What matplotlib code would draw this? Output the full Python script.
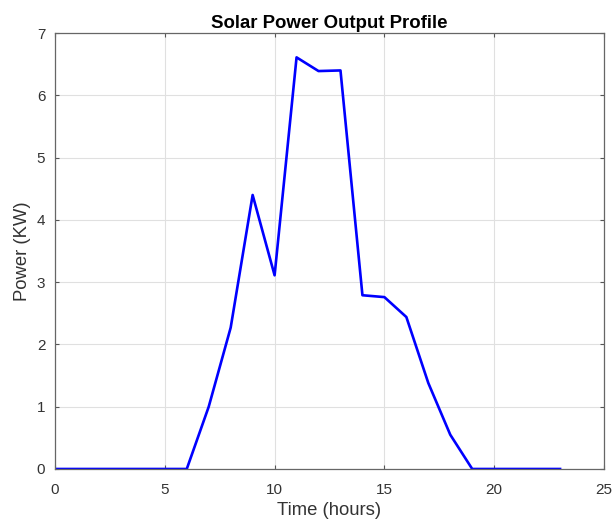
import matplotlib
matplotlib.use("Agg")
import matplotlib.pyplot as plt

hours = list(range(24))
power = [0, 0, 0, 0, 0, 0, 0, 1.0, 2.27, 4.4, 3.11, 6.61, 6.39, 6.4,
         2.79, 2.76, 2.44, 1.38, 0.55, 0, 0, 0, 0, 0]

plt.rcParams["font.family"] = ["Liberation Sans", "DejaVu Sans"]

fig = plt.figure(figsize=(6.16, 5.25), dpi=100)
ax = fig.add_axes([0.0893, 0.1067, 0.8912, 0.8303])
ax.plot(hours, power, color="#0000ff", linewidth=1.9)

ax.set_xlim(0, 25)
ax.set_ylim(0, 7)
ax.set_xticks(range(0, 26, 5))
ax.set_yticks(range(0, 8))
ax.grid(True, color="#e0e0e0", linewidth=0.8)
ax.set_axisbelow(True)
ax.tick_params(direction="in", top=True, right=True, color="#555555",
               labelcolor="#333333", labelsize=11, length=3)
ax.tick_params(axis="x", pad=10)
ax.tick_params(axis="y", pad=7)
for s in ax.spines.values():
    s.set_color("#666666")
    s.set_linewidth(0.9)

ax.set_title("Solar Power Output Profile", fontsize=13.4, fontweight="bold", pad=4)
ax.set_xlabel("Time (hours)", fontsize=13.3, color="#333333", labelpad=4)
ax.set_ylabel("Power (KW)", fontsize=13.3, color="#333333", labelpad=4)

fig.savefig("out.png", dpi=100)
